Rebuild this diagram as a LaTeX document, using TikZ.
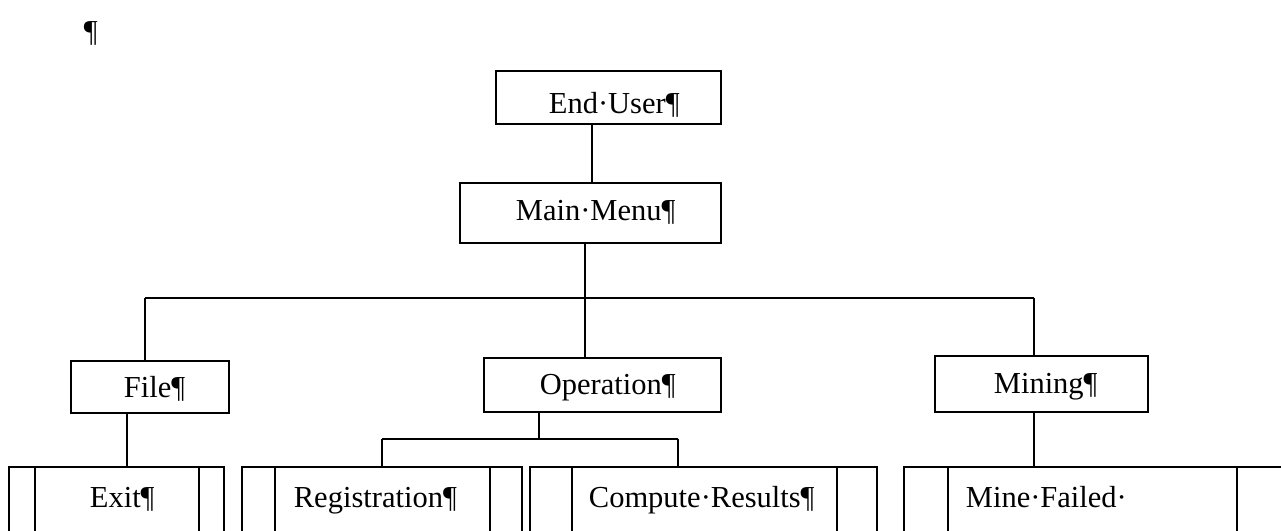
\documentclass[tikz,border=0pt]{standalone}
\usepackage{fontspec}
\setmainfont{Liberation Serif}
\begin{document}
\begin{tikzpicture}[x=1pt,y=-1pt, line width=1.8pt,
  box/.style={draw, rectangle, inner sep=0pt, anchor=north west},
  lbl/.style={anchor=base west, inner sep=0pt, font=\fontsize{30.5}{34}\selectfont}]
\useasboundingbox (0,0) rectangle (1281,530);
\clip (0,0) rectangle (1281,530);
% boxes
\node[box, minimum width=225, minimum height=53] (eu) at (495,70) {};
\node[box, minimum width=261, minimum height=60] (mm) at (459,182) {};
\node[box, minimum width=158, minimum height=52] (file) at (70,360) {};
\node[box, minimum width=237, minimum height=54] (op) at (483,357) {};
\node[box, minimum width=213, minimum height=56] (mine) at (934,355) {};
\node[box, minimum width=215, minimum height=100] (exit) at (8,466) {};
\node[box, minimum width=280, minimum height=100] (reg) at (241,466) {};
\node[box, minimum width=347, minimum height=100] (comp) at (529,466) {};
\node[box, minimum width=390, minimum height=100] (mf) at (903,466) {};
% inner bars of the bottom boxes
\draw (exit.north west) ++(27,0) -- ++(0,100);
\draw (exit.north east) ++(-26,0) -- ++(0,100);
\draw (reg.north west) ++(34,0) -- ++(0,100);
\draw (reg.north east) ++(-33,0) -- ++(0,100);
\draw (comp.north west) ++(43,0) -- ++(0,100);
\draw (comp.north east) ++(-41,0) -- ++(0,100);
\draw (mf.north west) ++(45,0) -- ++(0,100);
\draw (mf.north west) ++(334,0) -- ++(0,100);
% labels
\node[lbl] (pil) at (83,41) {¶};
\node[lbl] (teu) at (548,113) {End·User¶};
\node[lbl] (tmm) at (515,220) {Main·Menu¶};
\node[lbl] (tfile) at (123,397) {File¶};
\node[lbl] (top) at (539,394) {Operation¶};
\node[lbl] (tmine) at (993,393) {Mining¶};
\node[lbl] (texit) at (89,507) {Exit¶};
\node[lbl] (treg) at (293,507) {Registration¶};
\node[lbl] (tcomp) at (588,507) {Compute·Results¶};
\node[lbl] (tmf) at (965,507) {Mine·Failed·};
% connectors
\coordinate (x592) at (592,0);
\draw (eu.south -| x592) -- (mm.north -| x592);
\coordinate (bus) at (585,298);
\coordinate (busL) at (145,298);
\coordinate (busR) at (1034,298);
\draw (mm.south -| bus) -- (bus);
\draw (busL) -- (busR);
\draw (busL) -- (busL |- file.north);
\draw (bus) -- (bus |- op.north);
\draw (busR) -- (busR |- mine.north);
\draw (mine.south -| busR) -- (mf.north -| busR);
\coordinate (fx) at (127,0);
\draw (file.south -| fx) -- (exit.north -| fx);
\coordinate (ob) at (539,439);
\coordinate (obL) at (382,439);
\coordinate (obR) at (678,439);
\draw (op.south -| ob) -- (ob);
\draw (obL) -- (obR);
\draw (obL) -- (obL |- reg.north);
\draw (obR) -- (obR |- comp.north);
\end{tikzpicture}
\end{document}
